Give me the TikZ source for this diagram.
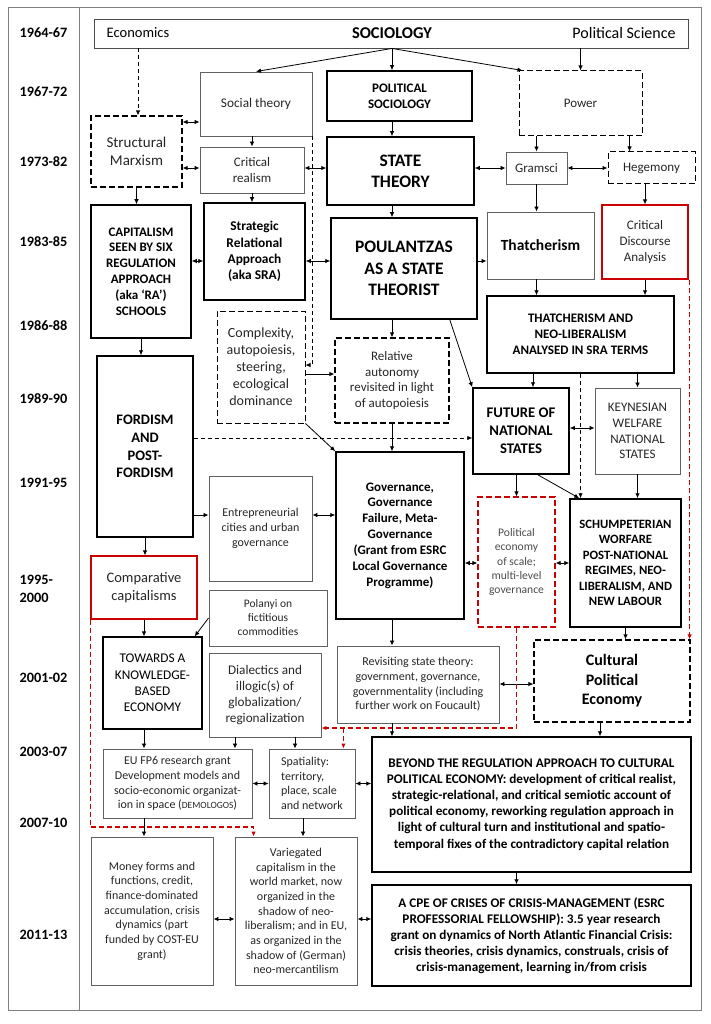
\documentclass[tikz,border=0pt]{standalone}
\usepackage{fontspec}
\setmainfont{Carlito}
\usetikzlibrary{arrows.meta,calc,positioning}

\begin{document}
\begin{tikzpicture}[x=1pt,y=-1pt,
  fs/.style={font=\linespread{1.22}\fontsize{#1}{#1}\selectfont},
  bfs/.style={font=\linespread{1.22}\fontsize{#1}{#1}\selectfont\bfseries},
  sz/.style 2 args={minimum width=#1pt, minimum height=#2pt},
  plainbox/.style={draw=black!62, line width=0.9pt, text=black!85, align=center, inner sep=1pt},
  heavybox/.style={draw=black, line width=1.5pt, align=center, inner sep=1pt},
  dashbox/.style={draw=black, line width=1.2pt, dash pattern=on 6pt off 3pt, text=black!85, align=center, inner sep=1pt},
  redbox/.style={draw=red!80!black, line width=1.2pt, text=black!85, align=center, inner sep=1pt},
  year/.style={anchor=west, align=left, bfs=14.3},
  arr/.style={-{Latex[length=5pt,width=4.5pt]}, line width=0.8pt},
  dbl/.style={{Latex[length=5pt,width=4.5pt]}-{Latex[length=5pt,width=4.5pt]}, line width=0.8pt},
  link/.style={dash pattern=on 4pt off 3pt},
  redlink/.style={draw=red!80!black, line width=1.3pt, dash pattern=on 5pt off 3pt}]
  \useasboundingbox (0,0) rectangle (710,1024);
  % frame and time column
  \draw[black!50, line width=1pt] (8,8) rectangle (701,1010);
  \draw[black!50, line width=1pt] (79,8) -- (79,1010);
  \node[year] (y1) at (16,33) {1964-67};
  \node[year] (y2) at (16,92) {1967-72};
  \node[year] (y3) at (16,162) {1973-82};
  \node[year] (y4) at (16,242) {1983-85};
  \node[year] (y5) at (16,326) {1986-88};
  \node[year] (y6) at (16,399) {1989-90};
  \node[year] (y7) at (16,483) {1991-95};
  \node[year] (y8) at (16,589) {1995-\\2000};
  \node[year] (y9) at (16,678) {2001-02};
  \node[year] (y10) at (16,752) {2003-07};
  \node[year] (y11) at (16,823) {2007-10};
  \node[year] (y12) at (16,935) {2011-13};
  % disciplines
  \node[draw=black!70, line width=0.9pt, sz={594}{29}] (disc) at (391,33.5) {};
  \node[fs=14.5] (econ) at (138,33) {Economics};
  \node[bfs=16.5] (soc) at (392,33) {SOCIOLOGY};
  \node[fs=16] (polsci) at (624,33) {Political Science};
  % 1967-82
  \node[plainbox, fs=13.3, sz={112}{64}] (soctheory) at (256,104) {Social theory};
  \node[heavybox, bfs=13, sz={145}{50}] (polsoc) at (399.5,96) {POLITICAL\\SOCIOLOGY};
  \node[dashbox, line width=1pt, fs=13, sz={123}{65}] (power) at (580.5,103.5) {Power};
  \node[dashbox, fs=15, sz={91}{71}] (structmarx) at (136.5,151.5) {Structural\\Marxism};
  \node[plainbox, fs=13, sz={104}{46}] (critreal) at (252,170) {Critical\\realism};
  \node[heavybox, bfs=17.5, sz={147}{68}] (statetheory) at (400.5,171) {STATE\\THEORY};
  \node[plainbox, fs=13, sz={61}{32}] (gramsci) at (536.5,168) {Gramsci};
  \node[dashbox, line width=1pt, fs=13, sz={87}{32}] (hegemony) at (651.5,168) {Hegemony};
  % 1983-88
  \node[heavybox, bfs=13, sz={100}{133}] (capitalism) at (141,271.5) {CAPITALISM\\SEEN BY SIX\\REGULATION\\APPROACH\\(aka ‘RA’)\\SCHOOLS};
  \node[heavybox, bfs=13.4, sz={101}{97}] (sra) at (254.5,251.5) {Strategic\\Relational\\Approach\\(aka SRA)};
  \node[heavybox, bfs=17.5, sz={146}{101}] (poulantzas) at (404,268.5) {POULANTZAS\\AS A STATE\\THEORIST};
  \node[plainbox, text=black, bfs=15.5, sz={107}{67}] (thatcherism) at (540.5,245.5) {Thatcherism};
  \node[redbox, fs=13, sz={86}{74}] (cda) at (645,242) {Critical\\Discourse\\Analysis};
  \node[heavybox, bfs=13, sz={187}{77}] (tnl) at (580.5,334.5) {THATCHERISM AND\\NEO-LIBERALISM\\ANALYSED IN SRA TERMS};
  \node[dashbox, line width=1pt, fs=14, sz={88}{112}] (complexity) at (261,367) {Complexity,\\autopoiesis,\\steering,\\ecological\\dominance};
  \node[dashbox, fs=13, sz={114}{85}] (relauto) at (392,380.5) {Relative\\autonomy\\revisited in light\\of autopoiesis};
  % 1989-95
  \node[heavybox, bfs=14.7, sz={96}{86}] (fns) at (521,431) {FUTURE OF\\NATIONAL\\STATES};
  \node[plainbox, fs=13, sz={85}{86}] (kwns) at (637.5,431) {KEYNESIAN\\WELFARE\\NATIONAL\\STATES};
  \node[heavybox, bfs=14.5, sz={96}{181}] (fordism) at (145,446.5) {FORDISM\\AND\\POST-\\FORDISM};
  \node[heavybox, bfs=13, sz={128}{167}] (governance) at (400,535.5) {Governance,\\Governance\\Failure, Meta-\\Governance\\(Grant from ESRC\\Local Governance\\Programme)};
  \node[plainbox, fs=12, sz={103}{105}] (entrecities) at (260.5,528.5) {Entrepreneurial\\cities and urban\\governance};
  \node[redbox, dash pattern=on 6pt off 3pt, text=black!70, fs=11.6, sz={77}{130}] (pes) at (516.5,562) {Political\\economy\\of scale;\\multi-level\\governance};
  \node[heavybox, bfs=12.7, sz={111}{128}] (swpnr) at (625.5,563) {SCHUMPETERIAN\\WORFARE\\POST-NATIONAL\\REGIMES, NEO-\\LIBERALISM, AND\\NEW LABOUR};
  % 1995-2002
  \node[redbox, fs=14.5, sz={106}{63}] (compcap) at (144,587.5) {Comparative\\capitalisms};
  \node[plainbox, fs=11.5, sz={118}{56}] (polanyi) at (268,618) {Polanyi on\\fictitious\\commodities};
  \node[heavybox, line width=1.3pt, fs=13.3, sz={99}{92}] (kbe) at (152.5,683) {TOWARDS A\\KNOWLEDGE-\\BASED\\ECONOMY};
  \node[plainbox, fs=13.2, sz={112}{84}] (dialectics) at (265,695) {Dialectics and\\illogic(s) of\\globalization/\\regionalization};
  \node[plainbox, fs=12, sz={162}{77}] (revisiting) at (418,684.5) {Revisiting state theory:\\government, governance,\\governmentality (including\\further work on Foucault)};
  \node[dashbox, text=black, bfs=16, sz={156}{82}] (cpe) at (612,681) {Cultural\\Political\\Economy};
  % 2003-13
  \node[plainbox, fs=12, sz={149}{69}] (eufp6) at (177.5,783.5) {EU FP6 research grant\\Development models and\\socio-economic organizat-\\ion in space ({\fontsize{9.5}{9.5}\selectfont DEMOLOGOS})};
  \node[plainbox, align=left, fs=12, sz={86}{69}] (spatiality) at (312,783.5) {Spatiality:\\territory,\\place, scale\\and network};
  \node[heavybox, bfs=13.2, sz={319}{135}] (beyond) at (531.5,804.5) {BEYOND THE REGULATION APPROACH TO CULTURAL\\POLITICAL ECONOMY: development of critical realist,\\strategic-relational, and critical semiotic account of\\political economy, reworking regulation approach in\\light of cultural turn and institutional and spatio-\\temporal fixes of the contradictory capital relation};
  \node[heavybox, bfs=13.2, sz={319}{101}] (cpecrisis) at (531.5,935.5) {A CPE OF CRISES OF CRISIS-MANAGEMENT (ESRC\\PROFESSORIAL FELLOWSHIP): 3.5 year research\\grant on dynamics of North Atlantic Financial Crisis:\\crisis theories, crisis dynamics, construals, crisis of\\crisis-management, learning in/from crisis};
  \node[plainbox, fs=12, sz={122}{148}] (money) at (152,911) {Money forms and\\functions, credit,\\finance-dominated\\accumulation, crisis\\dynamics (part\\funded by COST-EU\\grant)};
  \node[plainbox, fs=12, sz={122}{148}] (variegated) at (296,911) {Variegated\\capitalism in the\\world market, now\\organized in the\\shadow of neo-\\liberalism; and in EU,\\as organized in the\\shadow of (German)\\neo-mercantilism};
  % from the disciplines
  \draw[arr] (soc |- disc.south) -- (soctheory.north);
  \draw[arr] (soc |- disc.south) -- (soc |- polsoc.north);
  \draw[arr] (soc |- disc.south) -- ([xshift=4pt]power.north west);
  \draw[arr] (power.north |- disc.south) -- (power.north);
  \draw[arr, link] (econ |- disc.south) -- (econ |- structmarx.north);
  % 1967-82 links
  \draw[dbl] (structmarx.east |- 0,122) -- (soctheory.west |- 0,122);
  \draw[dbl] (structmarx.east |- 0,168) -- (critreal.west |- 0,168);
  \draw[arr] (critreal.north |- soctheory.south) -- (critreal.north);
  \draw[dbl] (critreal.east |- 0,168) -- (statetheory.west |- 0,168);
  \draw[arr] (soc |- polsoc.south) -- (soc |- statetheory.north);
  \draw[dbl] (statetheory.east |- gramsci.west) -- (gramsci.west);
  \draw[dbl] (gramsci) -- (hegemony);
  \draw[arr] (gramsci.north |- power.south) -- (gramsci.north);
  \draw[arr] ([xshift=-13pt]power.south east) -- ([xshift=-13pt]power.south east |- hegemony.north);
  \draw[arr] (structmarx.south) -- (structmarx.south |- capitalism.north);
  \draw[arr] (critreal.south) -- (critreal.south |- sra.north);
  \draw[arr, link] (soctheory.south east) |- (complexity.east |- 0,365);
  % 1983-88 links
  \draw[dbl] (capitalism.east |- 0,261) -- (sra.west |- 0,261);
  \draw[dbl] (sra.east |- 0,261) -- (poulantzas.west |- 0,261);
  \draw[arr] (soc |- statetheory.south) -- (soc |- poulantzas.north);
  \draw[arr] (poulantzas.east |- 0,261) -- (thatcherism.west |- 0,261);
  \draw[arr] (gramsci.south) -- (gramsci.south |- thatcherism.north);
  \draw[arr] (cda.north |- hegemony.south) -- (cda.north);
  \draw[arr, redlink] ([xshift=1pt]cda.south east) -- ([xshift=1pt]cda.south east |- cpe.north);
  \draw[arr] (gramsci.south |- thatcherism.south) -- (gramsci.south |- tnl.north);
  \draw[arr] (cda.south) -- (cda.south |- tnl.north);
  \draw[arr] (relauto.north |- poulantzas.south) -- (relauto.north);
  \draw[arr] ([xshift=-28pt]poulantzas.south east) -- (fns.north west);
  \draw[arr] (complexity.east |- 0,374) -- (relauto.west |- 0,374);
  % 1989-95 links
  \draw[arr] ([xshift=12pt]fns.north |- tnl.south) -- ([xshift=12pt]fns.north);
  \draw[arr] (kwns.north |- tnl.south) -- (kwns.north);
  \draw[dbl] (fns.east |- 0,428) -- (kwns.west |- 0,428);
  \draw[arr, link] (tnl.south) -- (tnl.south |- swpnr.north);
  \draw[arr] (capitalism.south) -- (capitalism.south |- fordism.north);
  \draw[arr, link] (fordism.east |- 0,438) -- (fns.west |- 0,438);
  \draw[arr] (complexity.south east) -- (governance.north west);
  \draw[arr] (relauto.south) -- (relauto.south |- governance.north);
  \draw[arr] (fordism.east |- 0,515) -- (entrecities.west |- 0,515);
  \draw[dbl] (entrecities.east |- 0,515) -- (governance.west |- 0,515);
  \draw[arr] (pes.north |- fns.south) -- (pes.north);
  \draw[arr] ([xshift=-32pt]fns.south east) -- ([xshift=10pt]swpnr.north west);
  \draw[arr] (kwns.south) -- (kwns.south |- swpnr.north);
  \draw[dbl] (governance.east |- 0,563) -- (pes.west |- 0,563);
  \draw[dbl] (pes.east |- 0,563) -- (swpnr.west |- 0,563);
  \draw[arr] (swpnr.south) -- (swpnr.south |- cpe.north);
  % 1995-2002 links
  \draw[arr] (fordism.south) -- (fordism.south |- compcap.north);
  \draw[arr, redlink] (compcap.south west) -- (compcap.south west |- 0,827) -| ([xshift=19pt]variegated.north west);
  \draw[arr] (compcap.south) -- (compcap.south |- kbe.north);
  \draw[arr] (polanyi.west) -- ([xshift=-8pt]kbe.north east);
  \draw[arr] (relauto.south |- governance.south) -- (relauto.south |- revisiting.north);
  \draw[dbl] (revisiting.east |- 0,684) -- (cpe.west |- 0,684);
  \draw[arr, redlink] (pes.south) -- (pes.south |- 0,728) -- (dialectics.east |- 0,728);
  \draw[arr, redlink] ([xshift=-12pt]spatiality.north east |- 0,728) -- ([xshift=-12pt]spatiality.north east);
  % 2003-13 links
  \draw[arr] (compcap.south |- kbe.south) -- (compcap.south |- eufp6.north);
  \draw[arr] ([xshift=-30pt]dialectics.south) -- ([xshift=-30pt]dialectics.south |- eufp6.north);
  \draw[arr] ([xshift=30pt]dialectics.south) -- ([xshift=30pt]dialectics.south |- spatiality.north);
  \draw[dbl] (eufp6) -- (spatiality);
  \draw[dbl] (spatiality.east) -- (beyond.west |- spatiality.east);
  \draw[arr] (soc |- revisiting.south) -- (soc |- beyond.north);
  \draw[arr] ([xshift=-12pt]cpe.south) -- ([xshift=-12pt]cpe.south |- beyond.north);
  \draw[arr] (pes.south |- beyond.south) -- (pes.south |- cpecrisis.north);
  \draw[arr] (compcap.south |- eufp6.south) -- (compcap.south |- money.north);
  \draw[arr] ([xshift=-9pt]spatiality.south) -- ([xshift=-9pt]spatiality.south |- variegated.north);
  \draw[dbl] (money.east |- 0,919) -- (variegated.west |- 0,919);
  \draw[dbl] (variegated.east |- 0,919) -- (cpecrisis.west |- 0,919);
\end{tikzpicture}
\end{document}
